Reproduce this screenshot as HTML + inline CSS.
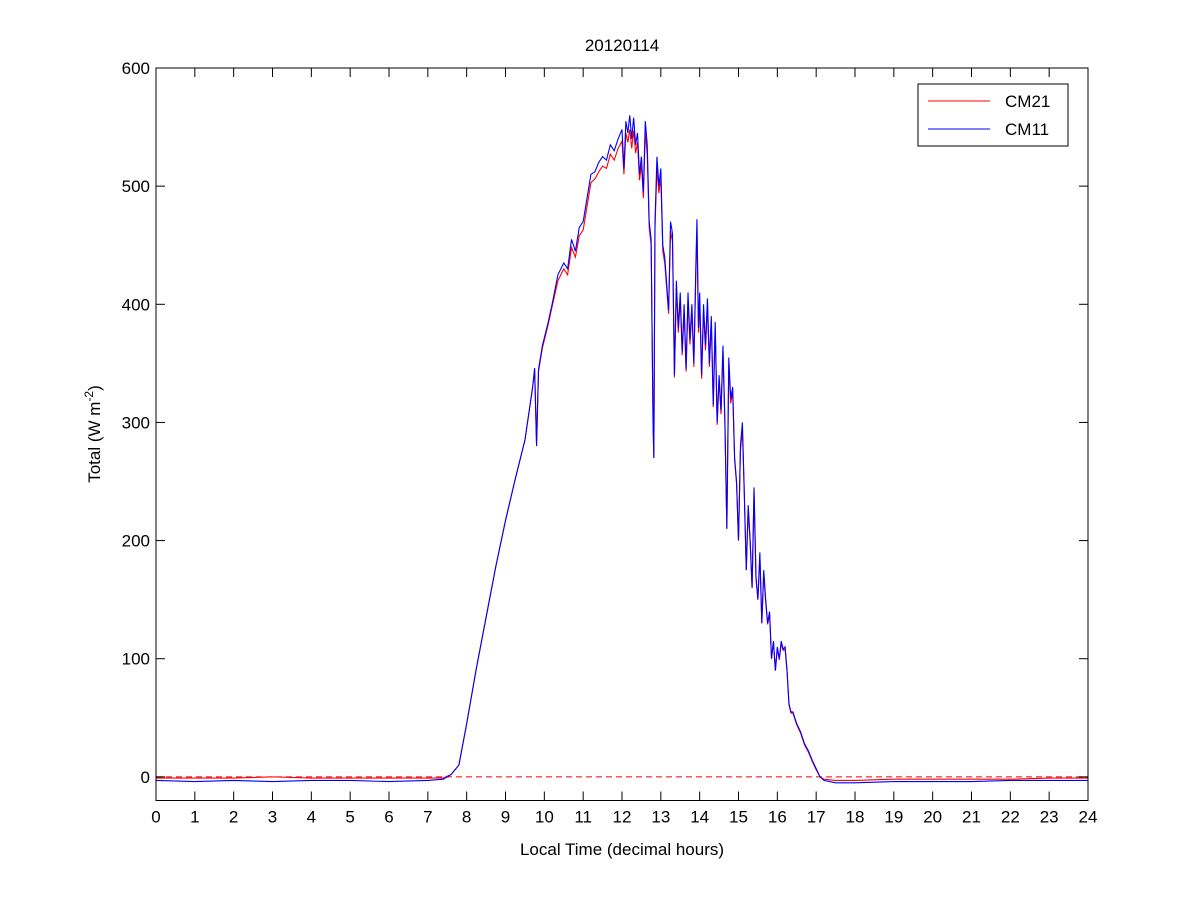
<!DOCTYPE html>
<html><head><meta charset="utf-8"><style>
body{margin:0;background:#fff}
svg text{font-family:"Liberation Sans",Arial,sans-serif;font-size:17px;fill:#000}
</style></head><body>
<svg id="chart" width="1201" height="900" xmlns="http://www.w3.org/2000/svg">
<rect width="1201" height="900" fill="#fff"/>
<g id="plot"></g>
</svg>
<script>
const xTicks=[0,1,2,3,4,5,6,7,8,9,10,11,12,13,14,15,16,17,18,19,20,21,22,23,24];
const yTicks=[0,100,200,300,400,500,600];
const timeT=[0,1,2,3,4,5,6,7,7.4,7.6,7.8,8.0,8.25,8.5,8.75,9.0,9.25,9.5,9.7,9.75,9.8,9.85,9.95,10.1,10.2,10.35,10.5,10.6,10.7,10.8,10.9,11.0,11.1,11.2,11.3,11.4,11.5,11.6,11.7,11.8,11.9,12.0,12.05,12.1,12.15,12.2,12.25,12.3,12.35,12.4,12.45,12.5,12.55,12.6,12.65,12.7,12.75,12.8,12.82,12.85,12.9,12.95,13.0,13.05,13.1,13.2,13.25,13.3,13.35,13.4,13.45,13.5,13.55,13.6,13.65,13.7,13.75,13.8,13.85,13.9,13.93,13.97,14.0,14.05,14.1,14.15,14.2,14.25,14.3,14.35,14.4,14.45,14.5,14.55,14.6,14.65,14.7,14.75,14.8,14.85,14.9,14.95,15.0,15.05,15.1,15.15,15.2,15.25,15.3,15.35,15.4,15.45,15.5,15.55,15.6,15.65,15.7,15.75,15.8,15.85,15.9,15.95,16.0,16.05,16.1,16.15,16.2,16.25,16.3,16.35,16.4,16.5,16.6,16.7,16.8,16.9,17.0,17.1,17.2,17.5,18,19,20,21,22,23,24];
const blueV=[-3,-4,-3,-4,-3,-3,-4,-3,-2,2,10,45,92,135,178,217,252,285,330,346,280,345,365,385,400,425,435,430,455,445,465,470,490,510,512,520,525,522,535,530,540,548,515,555,545,560,540,558,535,545,510,525,495,555,535,470,455,300,270,470,525,500,515,450,440,395,470,460,340,420,380,410,360,400,345,410,370,400,350,430,472,380,410,340,400,365,405,350,390,315,385,300,340,310,365,300,210,355,320,330,270,250,200,280,300,240,175,230,200,160,245,170,150,190,130,175,150,130,140,100,115,90,110,100,115,108,110,90,62,55,55,45,38,28,22,14,7,0,-3,-5,-5,-4,-4,-4,-3,-3,-3];
const redV=[-1,-1,-1,0,-1,-1,-1,-1,-1,2,10,45,92,135,178,217,252,285,330,344,282,343,363,383,398,420,430,425,448,440,458,463,483,503,506,512,517,515,527,522,532,538,510,545,537,548,532,547,528,537,505,518,490,545,527,465,450,298,270,465,515,494,507,445,435,392,462,453,338,414,376,404,357,394,343,403,366,394,347,423,462,376,404,337,394,361,398,347,385,313,380,298,336,307,360,298,210,348,316,326,268,248,200,276,294,238,175,227,198,160,240,168,150,187,130,172,148,129,138,100,114,90,109,99,113,107,108,89,61,54,54,44,37,27,21,13,6,0,-2,-3,-3,-2,-2,-2,-2,-1,-1];

const L=156,R=1088,T=68,B=800.5,xmin=0,xmax=24,ymin=-20,ymax=600;
const X=v=>L+(v-xmin)/(xmax-xmin)*(R-L);
const Y=v=>B-(v-ymin)/(ymax-ymin)*(B-T);
const NS='http://www.w3.org/2000/svg';
const g=document.getElementById('plot');
function mk(tag,attrs,parent){const e=document.createElementNS(NS,tag);for(const k in attrs)e.setAttribute(k,attrs[k]);(parent||g).appendChild(e);return e;}

const zl=mk('line',{x1:L,x2:R,y1:Y(0),y2:Y(0),stroke:'#e00',"stroke-width":1,"stroke-dasharray":"6,4"});



function series(ts,vs,color,name){
  let d='';for(let i=0;i<ts.length;i++)d+=(i?'L':'M')+X(ts[i]).toFixed(2)+' '+Y(vs[i]).toFixed(2);
  const p=mk('path',{d:d,fill:'none',stroke:color,"stroke-width":1.1});
  
  
}
series(timeT,redV,'#f00','cm21-line');
series(timeT,blueV,'#00f','cm11-line');

const box=mk('rect',{x:L,y:T,width:R-L,height:B-T,fill:'none',stroke:'#000',"stroke-width":1});



xTicks.forEach(t=>{
  const x=X(t);
  mk('line',{x1:x,x2:x,y1:B,y2:B-9,stroke:'#000'});
  mk('line',{x1:x,x2:x,y1:T,y2:T+9,stroke:'#000'});
  const tx=mk('text',{x:x,y:B+22,"text-anchor":"middle"});tx.textContent=t;
  
  
});
yTicks.forEach(t=>{
  const y=Y(t);
  mk('line',{x1:L,x2:L+9,y1:y,y2:y,stroke:'#000'});
  mk('line',{x1:R,x2:R-9,y1:y,y2:y,stroke:'#000'});
  const tx=mk('text',{x:L-6,y:y+6,"text-anchor":"end"});tx.textContent=t;
  
  
});

const title=mk('text',{x:622,y:51,"text-anchor":"middle"});title.textContent='20120114';


const xl=mk('text',{x:622,y:855,"text-anchor":"middle"});xl.textContent='Local Time (decimal hours)';


const yl=mk('text',{transform:'translate(100,434) rotate(-90)',"text-anchor":"middle"});
yl.innerHTML='Total (W m<tspan dy="-7" font-size="12">-2</tspan><tspan dy="7">)</tspan>';



const lg=mk('g',{});


mk('rect',{x:918,y:84,width:150,height:62,fill:'#fff',stroke:'#000'},lg);
const e1=mk('g',{},lg);


mk('line',{x1:928,x2:990,y1:101,y2:101,stroke:'#f00'},e1);
const t1=mk('text',{x:1005,y:107},e1);t1.textContent='CM21';
const e2=mk('g',{},lg);


mk('line',{x1:928,x2:990,y1:129,y2:129,stroke:'#00f'},e2);
const t2=mk('text',{x:1005,y:135},e2);t2.textContent='CM11';
</script>
</body></html>
